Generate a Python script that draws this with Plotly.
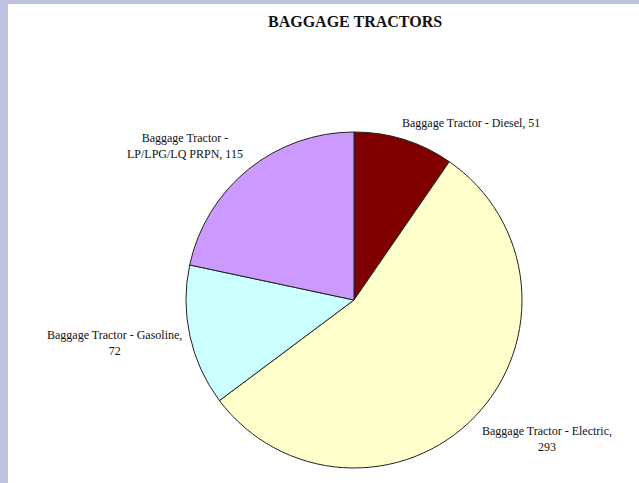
import plotly.graph_objs as go

# data
labels = ["Baggage Tractor - Diesel", "Baggage Tractor - Electric",
          "Baggage Tractor - Gasoline", "Baggage Tractor - LP/LPG/LQ PRPN"]
counts = [51, 293, 72, 115]
slice_colors = ["#800000", "#ffffcc", "#ccffff", "#cc99ff"]

# label text as shown in the picture (line breaks where the chart wraps them)
label_text = [
    "Baggage Tractor - Diesel, 51",
    "Baggage Tractor - Electric,<br>293",
    "Baggage Tractor - Gasoline,<br>72",
    "Baggage Tractor -<br>LP/LPG/LQ PRPN, 115",
]
# where each label sits, in pixels (x centre, y centre from top)
label_pos = [(471, 123), (547, 439), (115, 343), (185, 146)]

W, H = 639, 483
font_name = "Liberation Serif"

fig = go.Figure()

fig.add_trace(go.Pie(
    labels=labels,
    values=counts,
    sort=False,
    direction='clockwise',
    rotation=0,
    marker=dict(colors=slice_colors, line=dict(color='#222222', width=1)),
    textinfo='none',
    hoverinfo='label+value',
    showlegend=False,
    domain=dict(x=[(354 - 168) / W, (354 + 168) / W],
                y=[1 - (300 + 168) / H, 1 - (300 - 168) / H]),
))

annotations = []
for txt, (px, py) in zip(label_text, label_pos):
    annotations.append(dict(
        text=txt, x=px / W, y=1 - py / H, xref='paper', yref='paper',
        xanchor='center', yanchor='middle', showarrow=False, align='center',
        font=dict(family=font_name, size=12, color='#111111')))

annotations.append(dict(
    text="<b>BAGGAGE TRACTORS</b>", x=355 / W, y=1 - 21.5 / H,
    xref='paper', yref='paper', xanchor='center', yanchor='middle',
    showarrow=False, font=dict(family=font_name, size=16, color='#111111')))

fig.update_layout(
    width=W, height=H,
    margin=dict(l=0, r=0, t=0, b=0),
    paper_bgcolor='#bfc2e0',
    plot_bgcolor='white',
    annotations=annotations,
    shapes=[dict(type='rect', xref='paper', yref='paper',
                 x0=8 / W, x1=1, y0=0, y1=1 - 4 / H,
                 fillcolor='white', line=dict(width=0), layer='below')],
)

# drop the browser's default page margin so the figure sits at the corner
fig.write_html("out.html", config={'displayModeBar': False},
               post_script="document.body.style.margin='0';")
